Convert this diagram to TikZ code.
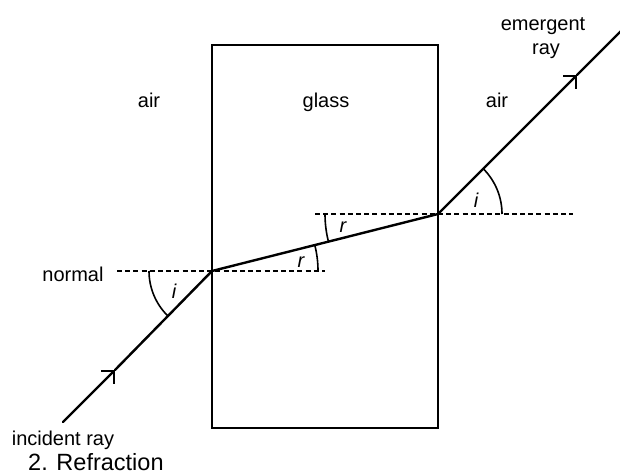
\documentclass[tikz,border=0pt]{standalone}
\usepackage{fontspec}
\setmainfont{Liberation Sans}
\usetikzlibrary{arrows.meta}
\begin{document}
\begin{tikzpicture}[x=1pt,y=1pt,
  ray/.style={line width=2.4pt, line cap=round},
  normalline/.style={line width=1.7pt, dash pattern=on 5pt off 3.2pt},
  anglearc/.style={line width=1.6pt},
  lbl/.style={font=\fontsize{20}{24}\selectfont, inner sep=0pt},
  anglbl/.style={font=\fontsize{20}{24}\selectfont\itshape, inner sep=0pt},
  barb/.style={-{Straight Barb[length=9pt,width=18pt]}}]
\useasboundingbox (0,0) rectangle (620,474);
% glass block
\node (block) [draw, line width=2pt, minimum width=226pt, minimum height=383pt, inner sep=0pt] at (325,237.5) {};
% key points
\coordinate (A) at (212,203);
\coordinate (B) at (438,260);
\coordinate (S) at (63,52);
\coordinate (P1) at (115,104);
\coordinate (P2) at (577,399);
\coordinate (E) at (622,444);
\coordinate (N1a) at (117,203);
\coordinate (N1b) at (325,203);
\coordinate (N2a) at (315,260);
\coordinate (N2b) at (573,260);
% normals
\draw[normalline] (N1a) -- (N1b);
\draw[normalline] (N2a) -- (N2b);
% rays
\draw[ray, barb] (S) -- (P1);
\draw[ray] (P1) -- (A);
\draw[ray] (A) -- (B);
\draw[ray, barb] (B) -- (P2);
\draw[ray] (P2) -- (E);
% angle arcs
\draw[anglearc] (A) ++(180:63) arc (180:225:63);
\draw[anglearc] (A) ++(0:106) arc (0:14.2:106);
\draw[anglearc] (B) ++(180:113) arc (180:194.2:113);
\draw[anglearc] (B) ++(0:64) arc (0:45:64);
% angle labels
\node[anglbl] (i1) at (174,183) {i};
\node[anglbl] (r1) at (301,212) {r};
\node[anglbl] (r2) at (343,247) {r};
\node[anglbl] (i2) at (476,274) {i};
% text labels
\node[lbl, anchor=base] (airL) at (149,366) {air};
\node[lbl, anchor=base] (glass) at (326,366) {glass};
\node[lbl, anchor=base] (airR) at (497,366) {air};
\node[lbl, anchor=base] (em1) at (543,443) {emergent};
\node[lbl, anchor=base] (em2) at (546,419) {ray};
\node[lbl, anchor=base] (norm) at (73,193) {normal};
\node[lbl, anchor=base] (inc) at (63,29) {incident ray};
\node[font=\fontsize{23.5}{28}\selectfont, inner sep=0pt, anchor=base west] (cap) at (28,3.5) {2. Refraction};
\end{tikzpicture}
\end{document}
